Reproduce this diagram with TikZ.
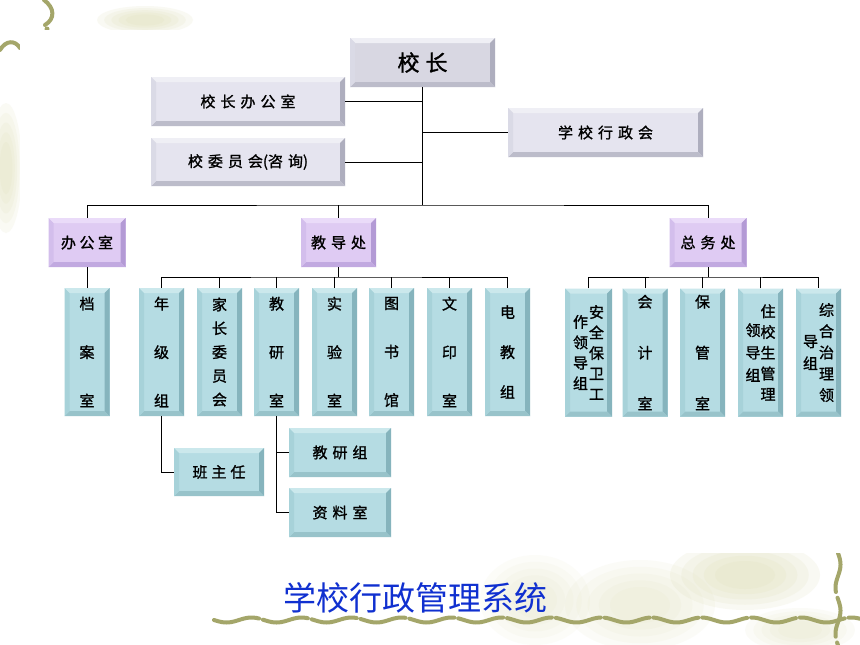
\documentclass[tikz,border=0pt]{standalone}
\usepackage{fontspec}
\newfontfamily\cjk{Noto Sans CJK SC}
\newfontfamily\cjkb[FakeBold=1.3]{Noto Sans CJK SC}
\usetikzlibrary{calc}
\definecolor{olivedeco}{HTML}{A4A66A}
\definecolor{beigedeco}{HTML}{DCDCB0}
\definecolor{gface}{HTML}{E5E4EF}
\definecolor{gtop}{HTML}{EFEFF5}
\definecolor{gright}{HTML}{AEAEBE}
\definecolor{gbot}{HTML}{BCBCCA}
\definecolor{gleft}{HTML}{DADAE6}
\definecolor{kface}{HTML}{D8D7E2}
\definecolor{pface}{HTML}{DFCBF3}
\definecolor{ptop}{HTML}{EADBF9}
\definecolor{pright}{HTML}{B39AD5}
\definecolor{pbot}{HTML}{C1A9E0}
\definecolor{pleft}{HTML}{D3BEEC}
\definecolor{tface}{HTML}{B5DCE3}
\definecolor{ttop}{HTML}{CBE8EC}
\definecolor{tright}{HTML}{86B4BD}
\definecolor{tbot}{HTML}{98C3CA}
\definecolor{tleft}{HTML}{A7D2D9}
\definecolor{titleblue}{HTML}{1030D0}
\newcommand\vcol[2]{\parbox[c]{16pt}{\centering\fontsize{15}{#1}\selectfont #2}}
\newcommand\gp{\hspace{5pt}}
\newcommand\softblob[4]{\foreach \k in {1,0.85,0.7,0.55,0.4}
  {\fill[beigedeco, opacity=#4] (#1) ellipse [x radius={\k*#2}, y radius={\k*#3}];}}
\tikzset{
  bevel/.style n args={5}{rectangle, inner sep=0pt, fill=#1,
    font=\cjkb\fontsize{15}{18}\selectfont,
    path picture={
      \fill[#2] (path picture bounding box.north west) -- (path picture bounding box.north east)
        -- ([shift={(-5pt,-5pt)}]path picture bounding box.north east)
        -- ([shift={(5pt,-5pt)}]path picture bounding box.north west) -- cycle;
      \fill[#3] (path picture bounding box.north east) -- (path picture bounding box.south east)
        -- ([shift={(-5pt,5pt)}]path picture bounding box.south east)
        -- ([shift={(-5pt,-5pt)}]path picture bounding box.north east) -- cycle;
      \fill[#4] (path picture bounding box.south east) -- (path picture bounding box.south west)
        -- ([shift={(5pt,5pt)}]path picture bounding box.south west)
        -- ([shift={(-5pt,5pt)}]path picture bounding box.south east) -- cycle;
      \fill[#5] (path picture bounding box.south west) -- (path picture bounding box.north west)
        -- ([shift={(5pt,-5pt)}]path picture bounding box.north west)
        -- ([shift={(5pt,5pt)}]path picture bounding box.south west) -- cycle;
    }},
  greybox/.style={bevel={gface}{gtop}{gright}{gbot}{gleft}},
  headbox/.style={bevel={kface}{gtop}{gright}{gbot}{gleft}},
  purplebox/.style={bevel={pface}{ptop}{pright}{pbot}{pleft}, minimum width=77pt, minimum height=49pt},
  tealbox/.style={bevel={tface}{ttop}{tright}{tbot}{tleft}},
  colbox/.style={tealbox, minimum width=45pt, minimum height=128pt},
  conn/.style={draw=black, line width=0.8pt},
  deco/.style={draw=olivedeco, line width=4pt, line cap=round}
}
\begin{document}
\begin{tikzpicture}[x=1pt,y=-1pt]
\useasboundingbox (0,0) rectangle (860,645);
\fill[white] (0,0) rectangle (860,645);
% background decorations
\softblob{145,20}{48pt}{14pt}{0.15}
\softblob{6,168}{16pt}{65pt}{0.13}
\softblob{745,575}{75pt}{35pt}{0.15}
\softblob{640,605}{75pt}{45pt}{0.09}
\softblob{535,600}{55pt}{45pt}{0.08}
\softblob{800,630}{55pt}{22pt}{0.09}
\draw[deco] (44,0) .. controls (55,8) and (55,19) .. (45,25);
\fill[olivedeco] (47,29) circle [radius=2.5pt];
\draw[deco] (0,50) .. controls (6,40) and (15,40) .. (20,48);
\draw[deco, dash pattern=on 46pt off 4pt] plot[domain=214:860, samples=260] (\x, {620+2.5*sin(7.2*(\x-214))});
\draw[deco, dash pattern=on 40pt off 6pt] plot[domain=553:645, samples=120] ({838+2.5*sin(7.8*(\x-553))}, \x);
% white picture area
\fill[white] (20,30) rectangle (860,553);

% level 1
\node[headbox, minimum width=145pt, minimum height=49pt, font=\cjkb\fontsize{22}{24}\selectfont] (xz) at (422.5,62.5) {校\hspace{6pt}长};
\node[greybox, minimum width=194pt, minimum height=49pt] (bgs) at (248,101.5) {校\gp 长\gp 办\gp 公\gp 室};
\node[greybox, minimum width=194pt, minimum height=48pt] (xwh) at (248,162) {校\gp 委\gp 员\gp 会(咨\gp 询)};
\node[greybox, minimum width=195pt, minimum height=49pt] (xzh) at (605.5,132.5) {学\gp 校\gp 行\gp 政\gp 会};
% level 2
\node[purplebox] (bgs2) at (87,242.5) {办\hspace{3.5pt}公\hspace{3.5pt}室};
\node[purplebox, minimum width=75pt] (jdc) at (338.5,242.5) {教\gp 导\gp 处};
\node[purplebox] (zwc) at (708,242.5) {总\gp 务\gp 处};
% level 3 left
\node[colbox] (dangan) at (87,352) {\vcol{48.5pt}{档\\案\\室}};
\node[colbox] (nj) at (161.5,352) {\vcol{48.5pt}{年\\级\\组}};
\node[colbox] (jz) at (219.5,352) {\vcol{23.75pt}{家\\长\\委\\员\\会}};
\node[colbox] (jys) at (276.5,352) {\vcol{48.5pt}{教\\研\\室}};
\node[colbox] (sy) at (334.5,352) {\vcol{48.5pt}{实\\验\\室}};
\node[colbox] (ts) at (391.5,352) {\vcol{48.5pt}{图\\书\\馆}};
\node[colbox] (wy) at (449.5,352) {\vcol{48.5pt}{文\\印\\室}};
\node[colbox] (dj) at (507.5,352) {\vcol{40pt}{电\\教\\组}};
% level 3 right
\node[colbox, minimum width=47pt] (aq) at (588.5,352.5) {\vcol{20.5pt}{作\\领\\导\\组}\vcol{20.5pt}{安\\全\\保\\卫\\工}};
\node[colbox] (kj) at (645,352.5) {\vcol{51pt}{会\\计\\室}};
\node[colbox] (bg) at (702.5,352.5) {\vcol{51pt}{保\\管\\室}};
\node[colbox] (zx) at (760.5,352.5) {\vcol{22.5pt}{领\\导\\组}\hspace{-1pt}\vcol{20.75pt}{住\\校\\生\\管\\理}};
\node[colbox] (zh) at (818.5,352.5) {\vcol{22pt}{导\\组}\vcol{21.25pt}{综\\合\\治\\理\\领}};
% level 4
\node[tealbox, minimum width=90pt, minimum height=48pt] (bzr) at (219,472) {班\hspace{4pt}主\hspace{4pt}任};
\node[tealbox, minimum width=102pt, minimum height=49pt] (jyz) at (340,452.5) {教\gp 研\gp 组};
\node[tealbox, minimum width=102pt, minimum height=49pt] (zls) at (340,512.5) {资\gp 料\gp 室};
% title
\node[font=\cjk\fontsize{33}{36}\selectfont, text=titleblue, inner sep=0pt] (title) at (415.5,598) {学校行政管理系统};

% connectors
\coordinate (bus) at (422.5,205);
\coordinate (busL) at (338.5,277);
\coordinate (busR) at (708,277);
\draw[conn] (xz.south) -- (bus);
\draw[conn] (bgs.east) -- (bgs.east -| xz.south);
\draw[conn] (xwh.east) -- (xwh.east -| xz.south);
\draw[conn] (xzh.west) -- (xzh.west -| xz.south);
\draw[conn] (bgs2.north) |- (bus) -| (zwc.north);
\draw[conn] (jdc.north) -- (jdc.north |- bus);
\draw[conn] (bgs2.south) -- (dangan.north);
\draw[conn] (jdc.south) -- (busL);
\draw[conn] (nj.north) |- (busL) -| (dj.north);
\foreach \n in {jz,jys,sy,ts,wy} \draw[conn] (\n.north) -- (\n.north |- busL);
\draw[conn] (zwc.south) -- (busR);
\draw[conn] (aq.north) |- (busR) -| (zh.north);
\foreach \n in {kj,bg,zx} \draw[conn] (\n.north) -- (\n.north |- busR);
\draw[conn] (nj.south) |- (bzr.west);
\draw[conn] (jys.south) |- (zls.west);
\draw[conn] (jys.south |- jyz.west) -- (jyz.west);
\end{tikzpicture}
\end{document}
